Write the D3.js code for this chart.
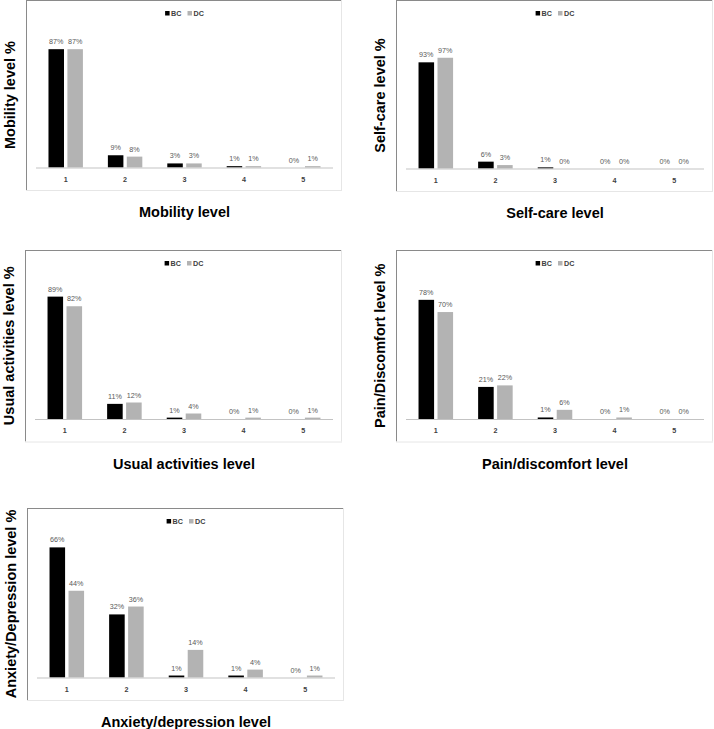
<!DOCTYPE html>
<html><head><meta charset="utf-8">
<script src="https://cdn.jsdelivr.net/npm/d3@7"></script>
<style>html,body{margin:0;padding:0;background:#fff;}svg{display:block;}</style>
</head><body>
<svg id="chart" width="714" height="729"></svg>
<script>
const levels = ["1","2","3","4","5"];
const seriesNames = ["BC","DC"];
const mobilityBC = [87,9,3,1,0];
const mobilityDC = [87,8,3,1,1];
const selfCareBC = [93,6,1,0,0];
const selfCareDC = [97,3,0,0,0];
const usualBC = [89,11,1,0,0];
const usualDC = [82,12,4,1,1];
const painBC = [78,21,1,0,0];
const painDC = [70,22,6,1,0];
const anxietyBC = [66,32,1,1,0];
const anxietyDC = [44,36,14,4,1];
const xTitles = ["Mobility level","Self-care level","Usual activities level","Pain/discomfort level","Anxiety/depression level"];
const yTitles = ["Mobility level %","Self-care level %","Usual activities level %","Pain/Discomfort level %","Anxiety/Depression level %"];
const yMaxes = [100,120,100,90,70];

const panels = [
  {bc:mobilityBC, dc:mobilityDC, frame:[26,0,342,190]},
  {bc:selfCareBC, dc:selfCareDC, frame:[396,0,713,191]},
  {bc:usualBC, dc:usualDC, frame:[25,250,342,441.5]},
  {bc:painBC, dc:painDC, frame:[396,250,713,441.5]},
  {bc:anxietyBC, dc:anxietyDC, frame:[27,508,344,700]}
];
const colors = {BC:"#000000", DC:"#b3b3b3"};
const font = "'Liberation Sans', Arial, sans-serif";
const svg = d3.select("#chart");

panels.forEach((p,i)=>{
  const [fl,ft,fr,fb] = p.frame;
  const g = svg.append("g");
  // frame
  g.append("line").attr("x1",fl).attr("x2",fr).attr("y1",ft+0.5).attr("y2",ft+0.5).attr("stroke","#8a8a8a").attr("stroke-width",1);
  g.append("line").attr("x1",fl+0.5).attr("x2",fl+0.5).attr("y1",ft).attr("y2",fb).attr("stroke","#8a8a8a").attr("stroke-width",1);
  g.append("line").attr("x1",fl).attr("x2",fr).attr("y1",fb+0.5).attr("y2",fb+0.5).attr("stroke","#e6e6e6").attr("stroke-width",1);
  g.append("line").attr("x1",fr-0.5).attr("x2",fr-0.5).attr("y1",ft).attr("y2",fb).attr("stroke","#e6e6e6").attr("stroke-width",1);

  const left = fl+10, right = fr-9, base = fb-22.5, top = ft+31.5;
  const x0 = d3.scaleBand().domain(levels).range([left,right]).padding(0);
  const x1 = d3.scaleBand().domain(seriesNames).range([0,x0.bandwidth()]).paddingInner(0.18).paddingOuter(0.66);
  const y = d3.scaleLinear().domain([0,yMaxes[i]]).range([base,top]);

  const rows = levels.map((lv,k)=>({lv, vals:[{s:"BC",v:p.bc[k]},{s:"DC",v:p.dc[k]}]}));
  const grp = g.selectAll("g.cat").data(rows).join("g").attr("class","cat")
    .attr("transform",d=>`translate(${x0(d.lv)},0)`);
  grp.selectAll("rect").data(d=>d.vals).join("rect")
    .attr("x",d=>x1(d.s)).attr("width",x1.bandwidth())
    .attr("y",d=>y(d.v)).attr("height",d=>y(0)-y(d.v))
    .attr("fill",d=>colors[d.s]);
  grp.selectAll("text.lbl").data(d=>d.vals).join("text").attr("class","lbl")
    .attr("x",d=>x1(d.s)+x1.bandwidth()/2).attr("y",d=>y(d.v)-5)
    .attr("text-anchor","middle").attr("font-family",font).attr("font-size",7.2)
    .attr("fill","#595959").text(d=>d.v+"%");

  // x axis
  const ax = d3.axisBottom(x0).tickSize(0).tickPadding(9);
  const axG = g.append("g").attr("transform",`translate(0,${base})`).call(ax);
  axG.select(".domain").attr("stroke","#c3c3c3").attr("stroke-width",1.2).attr("d",`M${left},0.5H${right}`);
  axG.selectAll(".tick text").attr("font-family",font).attr("font-size",7.2).attr("font-weight","bold").attr("fill","#404040");

  // legend
  const cx = (left+right)/2;
  const lg = g.append("g");
  let xx = 0;
  seriesNames.forEach((s,k)=>{
    lg.append("rect").attr("x",xx).attr("y",-2.5).attr("width",4.5).attr("height",4.5).attr("fill",colors[s]);
    const t = lg.append("text").attr("x",xx+6).attr("y",2.3).attr("font-family",font).attr("font-size",7.2)
      .attr("font-weight","bold").attr("fill","#404040").text(s);
    xx += 6 + t.node().getComputedTextLength() + 6;
  });
  const lw = xx-6;
  lg.attr("transform",`translate(${cx-lw/2},${ft+13.5})`);

  // titles
  g.append("text").attr("x",cx).attr("y",fb+27).attr("text-anchor","middle")
    .attr("font-family",font).attr("font-size",14.5).attr("font-weight","bold").attr("fill","#000").text(xTitles[i]);
  g.append("text").attr("transform",`translate(${fl-11},${(ft+fb)/2}) rotate(-90)`).attr("text-anchor","middle")
    .attr("font-family",font).attr("font-size",14.5).attr("font-weight","bold").attr("fill","#000").text(yTitles[i]);
});
</script>
</body></html>
